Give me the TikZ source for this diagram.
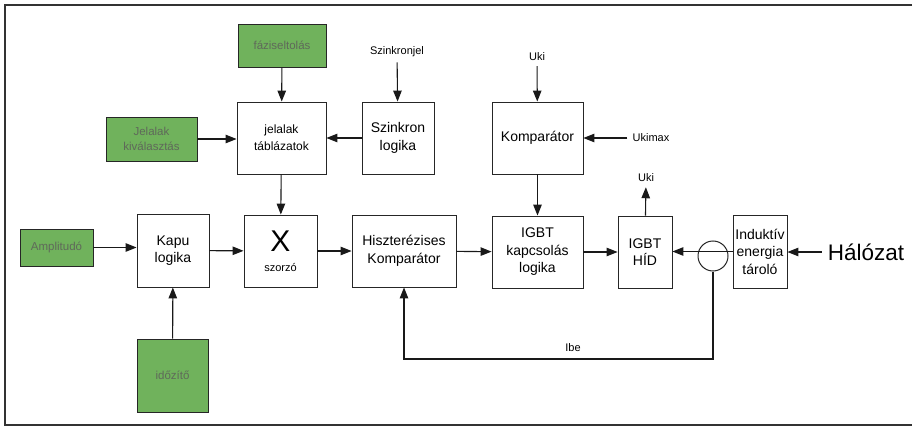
\documentclass[tikz,border=0pt]{standalone}
\usepackage{fontspec}
\setmainfont{Liberation Sans}
\usepackage{tikz}
\usetikzlibrary{positioning,arrows.meta}
\usepackage{xcolor}
\definecolor{inputgreen}{RGB}{112,178,92}
\definecolor{inputtext}{RGB}{95,105,90}

\tikzset{
  blockbox/.style={draw=black!85,line width=0.9pt,align=center,inner sep=1pt,
    font=\fontsize{14}{17.5}\selectfont},
  inputbox/.style={blockbox,fill=inputgreen,text=inputtext,
    font=\fontsize{11.5}{15}\selectfont},
  sig/.style={inner sep=5pt,font=\fontsize{11}{13}\selectfont},
  flow/.style={-{Triangle[length=11pt,width=8.5pt]},line width=1.1pt,draw=black!90}
}

\begin{document}
\begin{tikzpicture}[x=1pt,y=-1pt]
\useasboundingbox (0,0) rectangle (914,428);
\draw[line width=1.3pt,black!80] (912,5) -- (5,5) -- (5,425) -- (912,425);

% upper row
\node[inputbox,minimum width=88pt,minimum height=43pt] (faz) at (282,45.5) {fáziseltolás};
\node[inputbox,minimum width=91pt,minimum height=44pt] (jkiv) at (151.5,139) {Jelalak\\kiválasztás};
\node[blockbox,minimum width=89pt,minimum height=72pt,font=\fontsize{12}{17}\selectfont] (tabl) at (281.5,138) {jelalak\\táblázatok};
\node[blockbox,minimum width=72pt,minimum height=72pt] (szlog) at (398,138) {Szinkron\\logika};
\node[sig] (szjel) at (397,52) {Szinkronjel};
\node[blockbox,minimum width=91pt,minimum height=72pt] (komp) at (537.5,138) {Komparátor};
\node[sig] (ukib) at (537,57) {Uki};
\node[sig] (ukimax) at (651,138) {Ukimax};

% main row
\node[inputbox,minimum width=73pt,minimum height=37pt] (ampl) at (56.5,247.5) {Amplitudó};
\node[blockbox,minimum width=72pt,minimum height=73pt] (kapu) at (173,250.5) {Kapu\\logika};
\node[blockbox,minimum width=73pt,minimum height=72pt] (szor) at (280.5,251)
  {{\fontsize{30}{30}\selectfont X}\\[2pt]{\fontsize{11}{13}\selectfont szorzó}};
\node[blockbox,minimum width=104pt,minimum height=72pt] (hiszt) at (404,251) {Hiszterézises\\Komparátor};
\node[blockbox,minimum width=91pt,minimum height=72pt] (igbtk) at (537.5,252) {IGBT\\kapcsolás\\logika};
\node[blockbox,minimum width=54pt,minimum height=72pt] (hid) at (645,252) {IGBT\\HÍD};
\node[draw=black!85,line width=1pt,circle,minimum size=30pt,inner sep=0pt] (ring) at (713,256) {};
\node[blockbox,minimum width=54pt,minimum height=73pt,inner sep=0pt] (ind) at (760,251.5) {Induktív\\energia\\tároló};
\node[font=\fontsize{22.5}{26}\selectfont,inner sep=6pt] (halo) at (866,252) {Hálózat};
\node[sig] (ukik) at (646,178) {Uki};

% lower row
\node[inputbox,minimum width=71pt,minimum height=73pt] (idoz) at (172.5,375.5) {időzítő};
\coordinate (fb) at (713,359);
\node[sig] (ibe) at (573,348) {Ibe};

% connectors
\draw[flow] (faz) -- (tabl);
\draw[flow] (szjel) -- (szlog);
\draw[flow] (jkiv.east) -- (jkiv.east -| tabl.west);
\draw[flow] (szlog) -- (tabl);
\draw[flow] (tabl) -- (szor);
\draw[flow] (ukib) -- (komp);
\draw[flow] (ukimax) -- (komp);
\draw[flow] (komp) -- (igbtk);
\draw[flow] (ampl.east) -- (ampl.east -| kapu.west);
\draw[flow] (kapu) -- (szor);
\draw[flow] (szor) -- (hiszt);
\draw[flow] (hiszt) -- (igbtk);
\draw[flow] (igbtk) -- (hid);
\draw[flow] (idoz) -- (kapu);
\draw[flow] (hid) -- (ukik);
\draw[flow] (halo.west) -- (halo.west -| ind.east);
\draw[flow] (ind.west) -- (ind.west -| hid.east);
\draw[flow] (ring.south) -- (fb) -| (hiszt.south);
\end{tikzpicture}
\end{document}
